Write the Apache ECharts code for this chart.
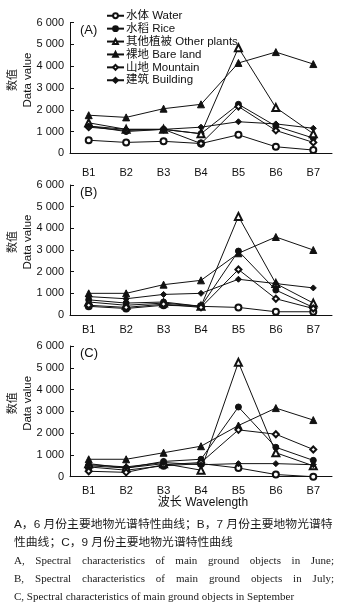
<!DOCTYPE html>
<html>
<head>
<meta charset="utf-8">
<script src="https://cdn.jsdelivr.net/npm/echarts@6/dist/echarts.min.js"></script>
<style>
  html, body { margin: 0; padding: 0; background: #fff; }
  #chart { width: 350px; height: 614px; }
</style>
</head>
<body>
<div id="chart"></div>
<script>
// 波段
const categories = ['B1', 'B2', 'B3', 'B4', 'B5', 'B6', 'B7'];
const seriesNames = ['水体 Water', '水稻 Rice', '其他植被 Other plants', '裸地 Bare land', '山地 Mountain', '建筑 Building'];
const yTicks = [0, 1000, 2000, 3000, 4000, 5000, 6000];

// (A) 6月
const juneWater    = [600, 500, 550, 450, 850, 300, 150];
const juneRice     = [1250, 1000, 1100, 900, 2250, 1250, 700];
const juneOther    = [1400, 1100, 1100, 900, 4850, 2100, 900];
const juneBare     = [1750, 1650, 2050, 2250, 4150, 4650, 4100];
const juneMountain = [1200, 1050, 1100, 450, 2150, 1050, 500];
const juneBuilding = [1250, 1100, 1100, 1200, 1450, 1350, 1150];

// (B) 7月
const julyWater    = [400, 300, 450, 400, 350, 150, 150];
const julyRice     = [700, 550, 600, 400, 2950, 1150, 350];
const julyOther    = [600, 450, 550, 400, 4550, 1450, 550];
const julyBare     = [1000, 1000, 1400, 1600, 2850, 3600, 3000];
const julyMountain = [450, 350, 500, 350, 2100, 750, 300];
const julyBuilding = [850, 750, 950, 1000, 1650, 1450, 1250];

// (C) 9月
const septWater    = [450, 300, 500, 600, 400, 100, 0];
const septRice     = [500, 400, 700, 800, 3200, 1350, 750];
const septOther    = [600, 400, 600, 300, 5250, 1100, 500];
const septBare     = [800, 800, 1100, 1400, 2350, 3150, 2600];
const septMountain = [250, 200, 550, 650, 2150, 1950, 1250];
const septBuilding = [550, 450, 650, 550, 600, 600, 550];

const symbols = ['emptyCircle', 'circle', 'emptyTriangle', 'triangle', 'emptyDiamond', 'diamond'];
const panels = [
  [juneWater, juneRice, juneOther, juneBare, juneMountain, juneBuilding],
  [julyWater, julyRice, julyOther, julyBare, julyMountain, julyBuilding],
  [septWater, septRice, septOther, septBare, septMountain, septBuilding]
];

const sans = '"Liberation Sans", "Noto Sans CJK SC", sans-serif';
const serif = '"Liberation Serif", "Noto Sans CJK SC", serif';
const ink = '#111';

const myCharts = echarts.init(document.getElementById('chart'));

const grids = [
  { left: 70, top: 22.7, width: 262, height: 130.6, outerBoundsMode: 'none' },
  { left: 70, top: 185, width: 262, height: 130, outerBoundsMode: 'none' },
  { left: 70, top: 346, width: 262, height: 130.7, outerBoundsMode: 'none' }
];
const labelMargins = [14, 9, 9];

const xAxis = grids.map((g, i) => ({
  type: 'category',
  gridIndex: i,
  data: categories,
  boundaryGap: true,
  axisLine: { lineStyle: { color: ink, width: 1 } },
  axisTick: { inside: true, length: 4, lineStyle: { color: ink } },
  axisLabel: { color: ink, fontSize: 11, fontFamily: sans, margin: labelMargins[i] }
}));

const yAxis = grids.map((g, i) => ({
  type: 'value',
  gridIndex: i,
  min: yTicks[0],
  max: yTicks[yTicks.length - 1],
  interval: 1000,
  axisLine: { show: true, lineStyle: { color: ink, width: 1 } },
  axisTick: { show: true, inside: true, length: 4, lineStyle: { color: ink } },
  splitLine: { show: false },
  axisLabel: {
    color: ink, fontSize: 11, fontFamily: sans, margin: 6,
    formatter: v => String(v).replace(/\B(?=(\d{3})+(?!\d))/g, ' ')
  }
}));

const series = [];
panels.forEach((list, p) => {
  list.forEach((data, k) => {
    series.push({
      name: seriesNames[k],
      type: 'line',
      xAxisIndex: p,
      yAxisIndex: p,
      data: data,
      symbol: symbols[k],
      symbolSize: k === 2 || k === 3 ? 7 : 6,
      lineStyle: { color: ink, width: 1 },
      itemStyle: { color: ink, borderColor: ink, borderWidth: 1 },
      emphasis: { disabled: true }
    });
  });
});

// caption lines, justified where the original is
const captionLines = [
  { text: 'A，6 月份主要地物光谱特性曲线；B，7 月份主要地物光谱特', y: 525, size: 11.8, justify: false, font: sans },
  { text: '性曲线；C，9 月份主要地物光谱特性曲线', y: 543, size: 11.8, justify: false, font: sans },
  { text: 'A, Spectral characteristics of main ground objects in June;', y: 561, size: 11, justify: true, font: serif },
  { text: 'B, Spectral characteristics of main ground objects in July;', y: 579, size: 11, justify: true, font: serif },
  { text: 'C, Spectral characteristics of main ground objects in September', y: 597, size: 11, justify: false, font: serif }
];
const capLeft = 14, capRight = 334;
const ctx = document.createElement('canvas').getContext('2d');
const graphic = [];
captionLines.forEach(line => {
  const font = line.size + 'px ' + line.font;
  if (!line.justify) {
    graphic.push({
      type: 'text', x: capLeft, y: line.y,
      style: { text: line.text, font: font, fill: '#1a1a1a', verticalAlign: 'middle' }
    });
    return;
  }
  ctx.font = font;
  const words = line.text.split(' ');
  const widths = words.map(w => ctx.measureText(w).width);
  const gap = (capRight - capLeft - widths.reduce((a, b) => a + b, 0)) / (words.length - 1);
  let x = capLeft;
  words.forEach((w, i) => {
    graphic.push({
      type: 'text', x: x, y: line.y,
      style: { text: w, font: font, fill: '#1a1a1a', verticalAlign: 'middle' }
    });
    x += widths[i] + gap;
  });
});

// 面板标签 + 纵轴标题
grids.forEach((g, i) => {
  graphic.push({
    type: 'text', x: 80, y: g.top + 7.5,
    style: { text: ['(A)', '(B)', '(C)'][i], font: '13px ' + sans, fill: ink, verticalAlign: 'middle' }
  });
  const cy = g.top + g.height / 2 - 8;
  graphic.push({
    type: 'text', x: 13, y: cy, rotation: Math.PI / 2,
    style: { text: '数值', font: '11px ' + sans, fill: ink, align: 'center', verticalAlign: 'middle' }
  });
  graphic.push({
    type: 'text', x: 28, y: cy, rotation: Math.PI / 2,
    style: { text: 'Data value', font: '11.5px ' + sans, fill: ink, align: 'center', verticalAlign: 'middle' }
  });
});
graphic.push({
  type: 'text', x: 203, y: 503,
  style: { text: '波长 Wavelength', font: '12px ' + sans, fill: ink, align: 'center', verticalAlign: 'middle' }
});

const option = {
  backgroundColor: '#fff',
  animation: false,
  grid: grids,
  xAxis: xAxis,
  yAxis: yAxis,
  legend: {
    data: seriesNames,
    orient: 'vertical',
    left: 101,
    top: 5,
    itemWidth: 17,
    itemHeight: 6,
    itemGap: 1.4,
    selectedMode: false,
    textStyle: { color: ink, fontSize: 11.5, fontFamily: sans, padding: [0, 0, 0, -3], lineHeight: 11 }
  },
  graphic: graphic,
  series: series
};

myCharts.setOption(option);
</script>
</body>
</html>
